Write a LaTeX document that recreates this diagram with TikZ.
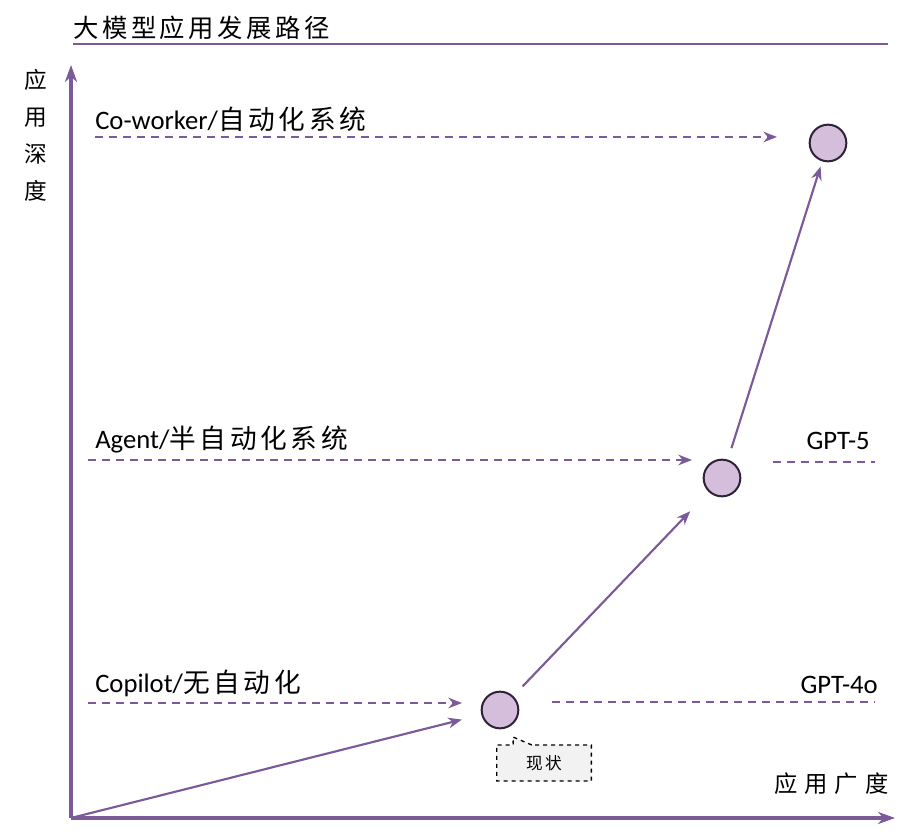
\documentclass[tikz,border=0pt]{standalone}
\usepackage{fontspec}
\setmainfont{Carlito}
\newfontfamily\cjk[LetterSpace=14]{Noto Sans CJK SC}
\newfontfamily\cjkwide[LetterSpace=30]{Noto Sans CJK SC}
\usetikzlibrary{arrows.meta, positioning, shapes.callouts}
\definecolor{pathPurple}{HTML}{7A5A99}
\definecolor{dotFill}{HTML}{D4BEDC}
\definecolor{dotEdge}{HTML}{2E2238}

\begin{document}
\begin{tikzpicture}[x=0.75pt, y=-0.75pt,
  axis/.style={-{Stealth[length=4.5mm, width=3.2mm]}, line width=2.4pt, pathPurple},
  arr/.style={-{Stealth[length=3.6mm, width=2.8mm]}, line width=1.6pt, pathPurple},
  dasharr/.style={-{Stealth[length=3.6mm, width=2.8mm]}, line width=1.2pt, pathPurple,
                  dash pattern=on 6pt off 4.5pt},
  dashline/.style={line width=1.2pt, pathPurple, dash pattern=on 6pt off 4.5pt},
  stage/.style={circle, draw=dotEdge, fill=dotFill, line width=1.5pt,
                minimum size=27.5pt, inner sep=0pt},
  lvl/.style={font=\fontsize{20}{24}\selectfont, inner sep=0pt},
]
  \useasboundingbox (0,0) rectangle (904,834);
  % title
  \node[anchor=south west, inner sep=0pt, font=\fontsize{19}{22}\selectfont\cjk]
    (title) at (73,40) {大模型应用发展路径};
  \coordinate (tl) at (73,44);
  \coordinate (tr) at (888,44);
  \draw[line width=2pt, pathPurple] (tl) -- (tr);
  % axes
  \coordinate (O) at (71,818);
  \coordinate (ytop) at (71,65);
  \coordinate (xend) at (895,818);
  \draw[axis] (O) -- (ytop);
  \draw[axis] (O) -- (xend);
  \node[align=center, font=\fontsize{17}{27.8}\selectfont\cjk, inner sep=0pt]
    (ylab) at (36,135) {应\\用\\深\\度};
  \node[anchor=west, inner sep=0pt, font=\fontsize{17.5}{20}\selectfont\cjkwide]
    (xlab) at (774,784) {应用广度};
  % stages
  \node[stage] (c1) at (500,710) {};
  \node[stage] (c2) at (722,478) {};
  \node[stage] (c3) at (828,143) {};
  \draw[arr, shorten >=15pt] (O) -- (c1);
  \draw[arr, shorten <=10pt, shorten >=20pt] (c1) -- (c2);
  \draw[arr, shorten <=9pt, shorten >=4pt] (c2) -- (c3);
  % levels
  \node[lvl, anchor=west] (l3) at (95,119) {Co-worker/{\cjk 自动化系统}};
  \node[lvl, anchor=west] (l2) at (95,440) {Agent/{\cjk 半自动化系统}};
  \node[lvl, anchor=west] (l1) at (95,683) {Copilot/{\cjk 无自动化}};
  \coordinate (d3a) at (95,137);  \coordinate (d3b) at (777,137);
  \coordinate (d2a) at (88,460);  \coordinate (d2b) at (692,460);
  \coordinate (d1a) at (88,703);  \coordinate (d1b) at (462,703);
  \draw[dasharr] (d3a) -- (d3b);
  \draw[dasharr] (d2a) -- (d2b);
  \draw[dasharr] (d1a) -- (d1b);
  % models
  \node[lvl, anchor=east] (g5) at (870,441) {GPT-5};
  \node[lvl, anchor=east] (g4) at (878,685) {GPT-4o};
  \coordinate (m5a) at (773,462);  \coordinate (m5b) at (875,462);
  \coordinate (m4a) at (552,702);  \coordinate (m4b) at (875,702);
  \draw[dashline] (m5a) -- (m5b);
  \draw[dashline] (m4a) -- (m4b);
  % current state
  \coordinate (tip) at (513,737);
  \node[rectangle callout, callout absolute pointer={(tip)}, callout pointer width=14pt,
        draw=black, fill=black!5, dashed, line width=1pt,
        minimum width=71pt, minimum height=27pt, inner sep=0pt,
        font=\fontsize{12.5}{14}\selectfont\cjk] (now) at (544,763) {现状};
\end{tikzpicture}
\end{document}
